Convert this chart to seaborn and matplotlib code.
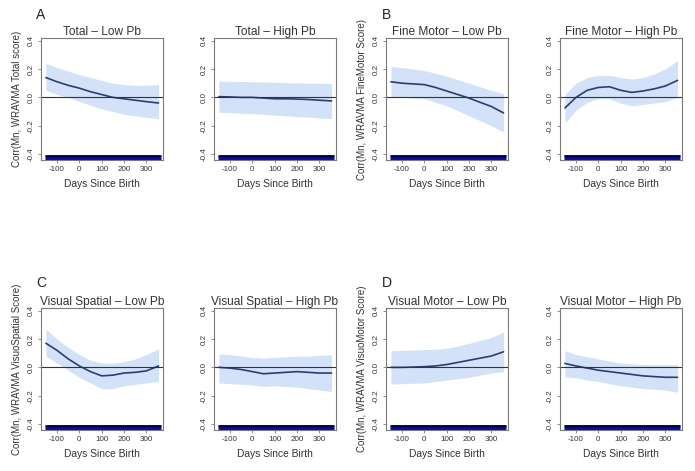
# Correlación Mn (WRAVMA) vs días desde el nacimiento, por grupo de Pb
import matplotlib
matplotlib.use("Agg")
import matplotlib.pyplot as plt
import seaborn as sns
import pandas as pd

# -----------------------------------------
# Datos
# -----------------------------------------
dias = [-150, -100, -50, 0, 50, 100, 150, 200, 250, 300, 355]
rug_dias = [-155, 368]

total_bajo = [0.14, 0.11, 0.085, 0.065, 0.04, 0.02, 0.0, -0.01, -0.02, -0.03, -0.04]
total_bajo_sup = [0.24, 0.21, 0.185, 0.16, 0.14, 0.12, 0.10, 0.09, 0.085, 0.085, 0.09]
total_bajo_inf = [0.05, 0.02, 0.0, -0.03, -0.055, -0.08, -0.10, -0.12, -0.13, -0.14, -0.15]

total_alto = [0.005, 0.003, 0.0, 0.0, -0.005, -0.01, -0.01, -0.012, -0.015, -0.02, -0.025]
total_alto_sup = [0.115, 0.113, 0.112, 0.11, 0.108, 0.106, 0.104, 0.102, 0.10, 0.10, 0.097]
total_alto_inf = [-0.105, -0.108, -0.112, -0.115, -0.12, -0.125, -0.13, -0.135, -0.14, -0.145, -0.15]

fino_bajo = [0.11, 0.10, 0.095, 0.09, 0.07, 0.045, 0.02, -0.005, -0.035, -0.064, -0.11]
fino_bajo_sup = [0.22, 0.21, 0.20, 0.19, 0.17, 0.15, 0.125, 0.10, 0.075, 0.05, 0.025]
fino_bajo_inf = [0.005, 0.0, -0.005, -0.01, -0.035, -0.06, -0.095, -0.13, -0.165, -0.2, -0.245]

fino_alto = [-0.075, 0.0, 0.05, 0.07, 0.075, 0.05, 0.035, 0.045, 0.06, 0.08, 0.12]
fino_alto_sup = [0.02, 0.10, 0.14, 0.155, 0.155, 0.14, 0.13, 0.14, 0.165, 0.20, 0.26]
fino_alto_inf = [-0.18, -0.09, -0.035, -0.01, -0.01, -0.04, -0.06, -0.05, -0.04, -0.03, 0.0]

espacial_bajo = [0.17, 0.12, 0.06, 0.01, -0.03, -0.06, -0.055, -0.04, -0.035, -0.025, 0.01]
espacial_bajo_sup = [0.27, 0.20, 0.14, 0.09, 0.05, 0.03, 0.03, 0.04, 0.06, 0.09, 0.13]
espacial_bajo_inf = [0.08, 0.03, -0.02, -0.07, -0.11, -0.15, -0.15, -0.13, -0.12, -0.11, -0.10]

espacial_alto = [0.0, -0.005, -0.015, -0.03, -0.045, -0.04, -0.035, -0.03, -0.035, -0.04, -0.04]
espacial_alto_sup = [0.095, 0.09, 0.08, 0.07, 0.065, 0.07, 0.075, 0.08, 0.08, 0.085, 0.09]
espacial_alto_inf = [-0.11, -0.115, -0.12, -0.125, -0.135, -0.13, -0.135, -0.14, -0.15, -0.16, -0.17]

motor_bajo = [0.0, 0.0, 0.002, 0.005, 0.01, 0.02, 0.035, 0.05, 0.065, 0.08, 0.11]
motor_bajo_sup = [0.118, 0.12, 0.122, 0.125, 0.128, 0.135, 0.15, 0.17, 0.19, 0.21, 0.25]
motor_bajo_inf = [-0.118, -0.115, -0.112, -0.11, -0.1, -0.09, -0.08, -0.07, -0.055, -0.04, -0.03]

motor_alto = [0.028, 0.01, -0.005, -0.02, -0.03, -0.04, -0.05, -0.06, -0.065, -0.07, -0.07]
motor_alto_sup = [0.118, 0.09, 0.075, 0.06, 0.045, 0.03, 0.025, 0.02, 0.02, 0.02, 0.02]
motor_alto_inf = [-0.066, -0.075, -0.09, -0.1, -0.115, -0.13, -0.14, -0.15, -0.155, -0.16, -0.176]

titulos = [
    "Total – Low Pb", "Total – High Pb", "Fine Motor – Low Pb", "Fine Motor – High Pb",
    "Visual Spatial – Low Pb", "Visual Spatial – High Pb",
    "Visual Motor – Low Pb", "Visual Motor – High Pb",
]
etiquetas_y = [
    "Corr(Mn, WRAVMA Total score)", "Corr(Mn, WRAVMA FineMotor Score)",
    "Corr(Mn, WRAVMA VisuoSpatial Score)", "Corr(Mn, WRAVMA VisuoMotor Score)",
]
letras = ["A", "B", "C", "D"]
ticks_x = [-100, 0, 100, 200, 300]
ticks_y = [-0.4, -0.2, 0.0, 0.2, 0.4]
etiquetas_ticks_y = ["-0.4", "-0.2", "0.0", "0.2", "0.4"]

series = [
    (total_bajo, total_bajo_sup, total_bajo_inf),
    (total_alto, total_alto_sup, total_alto_inf),
    (fino_bajo, fino_bajo_sup, fino_bajo_inf),
    (fino_alto, fino_alto_sup, fino_alto_inf),
    (espacial_bajo, espacial_bajo_sup, espacial_bajo_inf),
    (espacial_alto, espacial_alto_sup, espacial_alto_inf),
    (motor_bajo, motor_bajo_sup, motor_bajo_inf),
    (motor_alto, motor_alto_sup, motor_alto_inf),
]

# -----------------------------------------
# Estilo
# -----------------------------------------
sns.set_theme(style="ticks")
plt.rcParams["font.family"] = ["Liberation Sans", "DejaVu Sans"]
plt.rcParams["axes.unicode_minus"] = False

COLOR_BANDA = "#d3e2f8"
COLOR_LINEA = "#2c3e70"
COLOR_RUG = "#0a0aa8"
COLOR_EJE = "#7a7a7a"
COLOR_TEXTO = "#333333"

fig = plt.figure(figsize=(6.95, 4.71), dpi=100)

lefts = [41, 214, 386, 560]
tops = [38, 308]
ancho, alto = 122, 122

for i, (ajuste, sup, inf) in enumerate(series):
    fila = i // 4
    col = i % 4
    ax = fig.add_axes([lefts[col] / 695, 1 - (tops[fila] + alto) / 471, ancho / 695, alto / 471])

    ax.fill_between(dias, inf, sup, color=COLOR_BANDA, lw=0)
    df = pd.DataFrame({"dias": dias, "corr": ajuste})
    sns.lineplot(data=df, x="dias", y="corr", ax=ax, color=COLOR_LINEA, lw=1.2)
    ax.axhline(0, color="#333333", lw=0.8)
    ax.plot(rug_dias, [-0.421, -0.421], color=COLOR_RUG, lw=3.6, solid_capstyle="butt")
    ax.plot(rug_dias, [-0.416, -0.416], color="#00003a", lw=1.0, solid_capstyle="butt")

    ax.set_xlim(-172, 375)
    ax.set_ylim(-0.442, 0.419)
    ax.set_xticks(ticks_x)
    ax.set_yticks(ticks_y)
    ax.set_yticklabels(etiquetas_ticks_y, rotation=90, va="center")
    ax.tick_params(axis="both", labelsize=5.8, length=2.5, width=0.6,
                   color=COLOR_EJE, labelcolor=COLOR_TEXTO, pad=2)
    for sp in ax.spines.values():
        sp.set_color(COLOR_EJE)
        sp.set_linewidth(0.8)

    ax.set_title(titulos[i], fontsize=8.6, color=COLOR_TEXTO, pad=1.5)
    ax.set_xlabel("Days Since Birth", fontsize=7.4, color=COLOR_TEXTO, labelpad=4)
    if col in (0, 2):
        ax.set_ylabel(etiquetas_y[fila * 2 + col // 2], fontsize=7, color=COLOR_TEXTO, labelpad=4)
    else:
        ax.set_ylabel("")

# Letras de los paneles
posiciones_letras = [(36, 15), (382, 15), (36, 283), (382, 283)]
for letra, (px, py) in zip(letras, posiciones_letras):
    fig.text(px / 695, 1 - py / 471, letra, fontsize=10, color="#222222", va="center")

plt.savefig("out.png", dpi=100)
